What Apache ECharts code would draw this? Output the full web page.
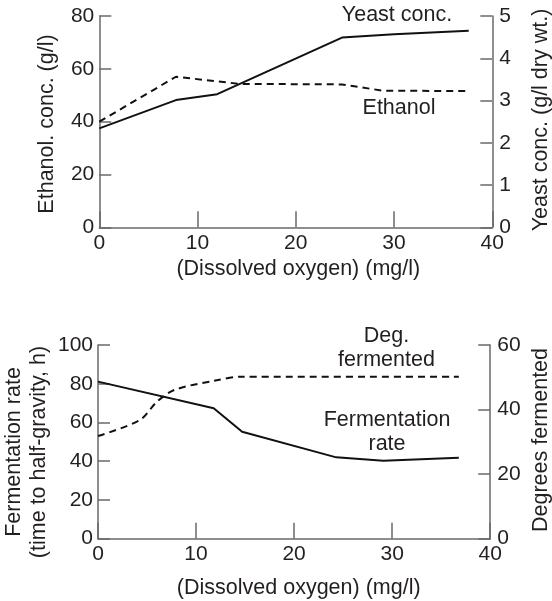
<!DOCTYPE html>
<html>
<head>
<meta charset="utf-8">
<script src="https://cdn.jsdelivr.net/npm/echarts@6/dist/echarts.min.js"></script>
<style>html,body{margin:0;padding:0;background:#fff}#c{width:552px;height:601px}</style>
</head>
<body>
<div id="c"></div>
<script>
// ---- data ----
var xTicks = [0, 10, 20, 30, 40];
var yeastX = [0, 7.8, 12, 24.7, 30, 37.6];
var yeastY = [2.34, 3.01, 3.15, 4.49, 4.57, 4.65];
var ethanolX = [0, 7.8, 14.3, 24.7, 28.9, 37.6];
var ethanolY = [40, 57, 54.3, 54.1, 51.7, 51.6];
var rateX = [0, 11.8, 14.7, 24.3, 29.1, 36.8];
var rateY = [81.1, 67.3, 55.2, 42.0, 40.3, 41.8];
var degX = [0, 4.3, 6.0, 7.8, 11.8, 14.7, 36.8];
var degY = [31.8, 36.8, 42.4, 46.1, 48.9, 50.2, 50.2];

function pairs(xs, ys) { return xs.map(function (x, i) { return [x, ys[i]]; }); }

var FONT = "'Liberation Sans', Arial, Helvetica, sans-serif";
var TXT = '#231f20';
var AX = '#6a6a6a';

function xAxis(gi) {
  return {
    type: 'value', gridIndex: gi, min: 0, max: 40, interval: 10,
    axisLine: { show: true, lineStyle: { color: AX, width: 1.5 } },
    axisTick: { show: true, inside: true, length: 16, lineStyle: { color: AX, width: 1.5 } },
    axisLabel: { color: TXT, fontSize: 21, fontFamily: FONT, margin: 5 },
    splitLine: { show: false }
  };
}
function yAxis(gi, max, interval, pos) {
  return {
    type: 'value', gridIndex: gi, min: 0, max: max, interval: interval, position: pos,
    axisLine: { show: true, lineStyle: { color: AX, width: 1.5 } },
    axisTick: { show: true, inside: true, length: 12, lineStyle: { color: AX, width: 1.5 } },
    axisLabel: { color: TXT, fontSize: 21, fontFamily: FONT, margin: pos === 'left' ? 5 : 7, padding: [6, 0, 0, 0] },
    splitLine: { show: false }
  };
}
function txt(t, x, y, rot, extra) {
  var s = { text: t, font: '21.5px ' + FONT, fill: TXT, align: 'center', verticalAlign: 'middle' };
  if (extra) for (var k in extra) s[k] = extra[k];
  return { type: 'text', x: x, y: y, rotation: rot || 0, style: s };
}

var chart = echarts.init(document.getElementById('c'), null, { renderer: 'canvas' });
chart.setOption({
  animation: false,
  backgroundColor: '#fff',
  grid: [
    { left: 99.3, top: 16, width: 393, height: 211.3 },
    { left: 98, top: 345, width: 392.2, height: 193.7 }
  ],
  xAxis: [xAxis(0), xAxis(1)],
  yAxis: [
    yAxis(0, 80, 20, 'left'),
    yAxis(0, 5, 1, 'right'),
    yAxis(1, 100, 20, 'left'),
    yAxis(1, 60, 20, 'right')
  ],
  series: [
    { type: 'line', name: 'Yeast conc.', xAxisIndex: 0, yAxisIndex: 1, data: pairs(yeastX, yeastY),
      symbol: 'none', lineStyle: { color: '#111', width: 2 } },
    { type: 'line', name: 'Ethanol', xAxisIndex: 0, yAxisIndex: 0, data: pairs(ethanolX, ethanolY),
      symbol: 'none', lineStyle: { color: '#111', width: 2, type: [7, 5] } },
    { type: 'line', name: 'Fermentation rate', xAxisIndex: 1, yAxisIndex: 2, data: pairs(rateX, rateY),
      symbol: 'none', lineStyle: { color: '#111', width: 2 } },
    { type: 'line', name: 'Deg. fermented', xAxisIndex: 1, yAxisIndex: 3, data: pairs(degX, degY),
      symbol: 'none', smooth: 0.3, lineStyle: { color: '#111', width: 2, type: [7, 5] } }
  ],
  graphic: [
    txt('Yeast conc.', 397, 15),
    txt('Ethanol', 399, 108),
    txt('(Dissolved oxygen) (mg/l)', 298.3, 269.5),
    txt('Ethanol. conc. (g/l)', 47.5, 124, -Math.PI / 2 * -1),
    txt('Yeast conc. (g/l dry wt.)', 541.5, 120, Math.PI / 2),
    txt('Deg.\nfermented', 386.5, 348, 0, { lineHeight: 23.5 }),
    txt('Fermentation\nrate', 387, 432, 0, { lineHeight: 23.5 }),
    txt('(Dissolved oxygen) (mg/l)', 298.7, 588),
    txt('Fermentation rate\n(time to half-gravity, h)', 26.7, 452, Math.PI / 2, { lineHeight: 25 }),
    txt('Degrees fermented', 541.5, 440, Math.PI / 2)
  ]
});
</script>
</body>
</html>
